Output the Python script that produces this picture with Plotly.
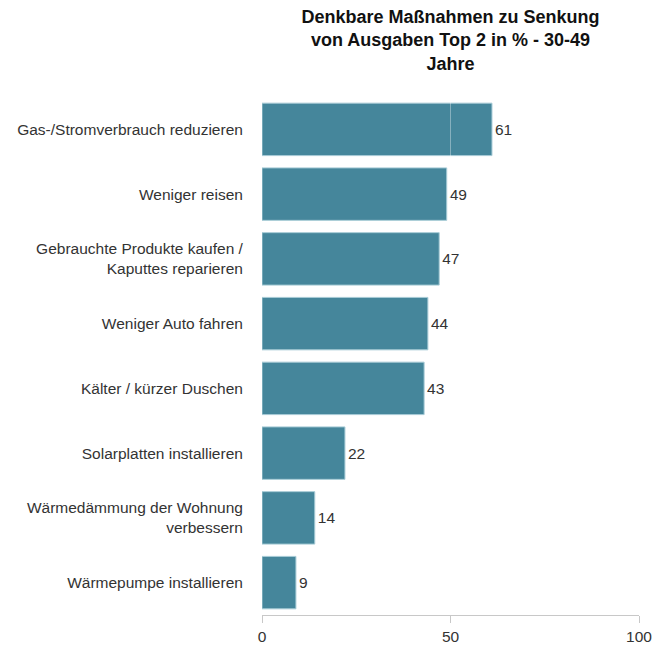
import plotly.graph_objects as go

massnahmen = [
    "Gas-/Stromverbrauch reduzieren",
    "Weniger reisen",
    "Gebrauchte Produkte kaufen /<br>Kaputtes reparieren",
    "Weniger Auto fahren",
    "Kälter / kürzer Duschen",
    "Solarplatten installieren",
    "Wärmedämmung der Wohnung<br>verbessern",
    "Wärmepumpe installieren",
]
prozent = [61, 49, 47, 44, 43, 22, 14, 9]
x_ticks = [0, 50, 100]

fig = go.Figure()
fig.add_trace(
    go.Bar(
        x=prozent,
        y=massnahmen,
        orientation="h",
        marker=dict(color="#45869B", line=dict(color="#a7cbd6", width=1)),
        text=prozent,
        textposition="outside",
        textfont=dict(size=15.5, color="#333333"),
        cliponaxis=False,
    )
)

# helle Gitterlinie bei 50 ueber den Balken
fig.add_shape(
    type="line", x0=50, x1=50, y0=0, y1=1, xref="x", yref="paper",
    line=dict(color="rgba(255,255,255,0.35)", width=1), layer="above",
)

fig.update_layout(
    width=654,
    height=653,
    margin=dict(l=262, r=15, t=97, b=38),
    plot_bgcolor="white",
    paper_bgcolor="white",
    font=dict(family="Liberation Sans, Arial, sans-serif", size=15.5, color="#333333"),
    bargap=0.19,
    showlegend=False,
    title=dict(
        text="Denkbare Maßnahmen zu Senkung<br>von Ausgaben Top 2 in % - 30-49<br>Jahre",
        xref="paper",
        x=0.5,
        xanchor="center",
        y=1 - 23 / 653,
        yanchor="middle",
        font=dict(size=18, color="#111111", family="Liberation Sans, Arial, sans-serif", weight="bold"),
    ),
)
fig.update_xaxes(
    range=[0, 100],
    tickvals=x_ticks,
    showgrid=False,
    zeroline=False,
    showline=True,
    linecolor="#c8c8c8",
    ticks="outside",
    tickcolor="#c8c8c8",
    ticklen=7,
    tickfont=dict(size=15.5, color="#333333"),
    automargin=False,
)
fig.update_yaxes(
    autorange="reversed",
    showgrid=False,
    showline=False,
    ticks="outside",
    ticklen=15,
    tickcolor="rgba(0,0,0,0)",
    tickfont=dict(size=15.5, color="#333333"),
    automargin=False,
)

# Standard-Rand des body entfernen, damit die Figur genau ins Fenster passt
fig.write_html(
    "out.html",
    config={"displayModeBar": False},
    post_script="document.body.style.margin='0';",
)
